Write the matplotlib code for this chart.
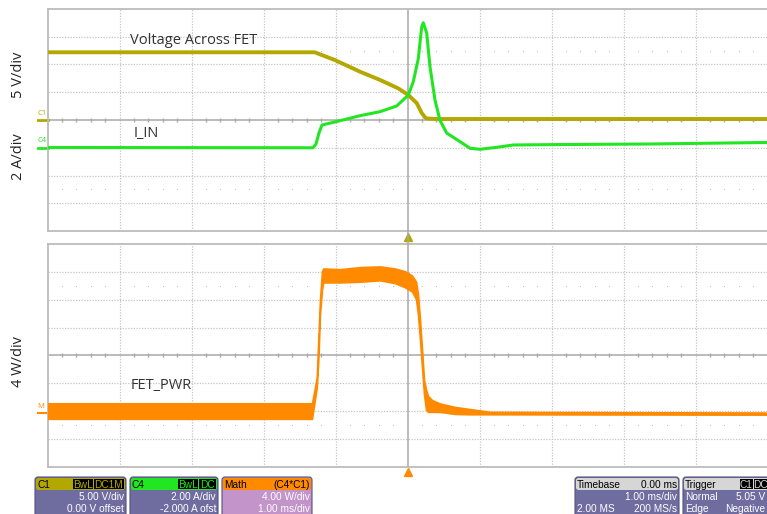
import matplotlib
matplotlib.use("Agg")
import matplotlib.pyplot as plt
import numpy as np
from matplotlib.patches import FancyBboxPatch, Rectangle

plt.rcParams['font.family'] = ['Open Sans', 'DejaVu Sans']

# --- scope settings ---
V_PER_DIV = 5.0       # C1
A_PER_DIV = 2.0       # C4
A_OFFSET = -2.0
W_PER_DIV = 4.0       # Math
MATH_ZERO_DIV = -2.08

# --- C1: voltage across FET (ms, V) ---
v_time = [-5.0, -1.29, -1.01, -0.66, -0.38, -0.13, 0.01, 0.126, 0.196, 0.242, 0.265, 0.4, 5.0]
v_vals = [12.2, 12.2, 10.8, 8.7, 7.2, 5.7, 4.5, 3.06, 1.26, 0.49, 0.27, 0.18, 0.18]

# --- C4: input current (ms, A) ---
i_time = [-5.0, -1.314, -1.272, -1.231, -1.189, -1.008, -0.661, -0.383, -0.151, 0.010, 0.079,
          0.149, 0.196, 0.218, 0.265, 0.311, 0.381, 0.450, 0.543, 0.728, 0.867, 1.006, 1.238,
          1.468, 2.117, 3.367, 4.99]
i_vals = [0.02, 0.0, 0.27, 1.06, 1.64, 1.86, 2.31, 2.60, 3.01, 3.80, 4.76,
          6.44, 8.72, 9.01, 8.27, 5.84, 3.42, 1.98, 1.06, 0.44, -0.04, -0.11, 0.03,
          0.20, 0.23, 0.27, 0.38]

# --- Math: FET power envelope (ms, W) ---
p_time = [-5.0, -1.328, -1.262, -1.240, -1.217, -1.189, -1.171, -0.939, -0.661, -0.383, -0.175,
          -0.036, 0.061, 0.117, 0.144, 0.172, 0.200, 0.228, 0.256, 0.283, 0.339, 0.450, 0.658,
          0.867, 1.144, 4.99]
p_upper = [1.43, 1.43, 5.10, 10.6, 16.3, 20.4, 20.8, 20.7, 21.0, 21.1, 20.8,
           20.4, 19.8, 18.9, 17.1, 13.5, 9.2, 4.8, 3.4, 2.5, 1.9, 1.4, 0.9,
           0.6, 0.2, 0.1]
p_lower = [-0.80, -0.80, 3.68, 7.7, 14.2, 17.8, 18.8, 18.8, 18.9, 19.1, 18.7,
           18.1, 17.5, 16.4, 14.2, 10.6, 6.6, 2.7, 0.5, 0.2, 0.2, 0.2, -0.1,
           -0.15, -0.15, -0.2]

C1_COL = '#b3a800'
C4_COL = '#22e622'
MATH_COL = '#ff8a00'
GRID_COL = '#c4c4c4'
AXIS_COL = '#a8a8a8'

W, H = 767, 514
fig = plt.figure(figsize=(W / 100, H / 100), dpi=100)


def px_axes(x0, y_top, x1, y_bot):
    return fig.add_axes([x0 / W, 1 - y_bot / H, (x1 - x0) / W, (y_bot - y_top) / H])


def scope_grid(ax):
    ax.set_xlim(-5, 5)
    ax.set_ylim(-4, 4)
    ax.set_xticks([])
    ax.set_yticks([])
    for s in ax.spines.values():
        s.set_color('#bcbcbc')
        s.set_linewidth(1.3)
    for k in range(-4, 5):
        if k != 0:
            ax.axvline(k, color=GRID_COL, lw=0.9, ls=(0, (1, 1.2)), zorder=0)
    for k in range(-3, 4):
        if k != 0:
            ax.axhline(k, color=GRID_COL, lw=0.9, ls=(0, (1, 1.2)), zorder=0)
    ax.axhline(0, color=AXIS_COL, lw=1.1, zorder=0)
    ax.axvline(0, color=AXIS_COL, lw=1.1, zorder=0)
    minor_x = [m / 5 for m in range(-25, 26) if m % 5 != 0]
    ax.plot(minor_x, [0] * len(minor_x), ls='none', marker='|', ms=3.5, mew=1, color=AXIS_COL, zorder=0)
    for yy in (2.5, -2.5):
        ax.plot(minor_x, [yy] * len(minor_x), ls='none', marker='s', ms=0.6, mew=0, color='#b8b8b8', zorder=0)


# top panel: C1 and C4
ax1 = px_axes(47.6, 9, 767.6, 231)
scope_grid(ax1)
v_div = np.array(v_vals) / V_PER_DIV
i_div = (np.array(i_vals) + A_OFFSET) / A_PER_DIV
ax1.plot(v_time, v_div, color=C1_COL, lw=2.8, solid_joinstyle='round', zorder=3)
ax1.plot(i_time, i_div, color=C4_COL, lw=2.2, solid_joinstyle='round', zorder=4)
ax1.text(-3.855, 2.85, 'Voltage Across FET', fontsize=10.5, color='#333333', va='center', ha='left')
ax1.text(-3.81, -0.5, 'I_IN', fontsize=10.5, color='#333333', va='center', ha='left')
ax1.plot(0, -4.22, marker='^', ms=6, color=C1_COL, clip_on=False, zorder=5)
# channel markers
ax1.plot([-5.14, -5.0], [0, 0], color=C1_COL, lw=2, clip_on=False)
ax1.text(-5.14, 0.12, 'C1', fontsize=5.5, color=C1_COL, ha='left', va='bottom')
ax1.plot([-5.14, -5.0], [A_OFFSET / A_PER_DIV] * 2, color=C4_COL, lw=2, clip_on=False)
ax1.text(-5.14, A_OFFSET / A_PER_DIV + 0.12, 'C4', fontsize=5.5, color=C4_COL, ha='left', va='bottom')

# bottom panel: Math = C4*C1
ax2 = px_axes(47.6, 244, 767.6, 466.7)
scope_grid(ax2)
pu = np.array(p_upper) / W_PER_DIV + MATH_ZERO_DIV
pl = np.array(p_lower) / W_PER_DIV + MATH_ZERO_DIV
ax2.fill_between(p_time, pl, pu, color=MATH_COL, lw=1.2, edgecolor=MATH_COL, zorder=3)
ax2.text(-3.84, -1.1, 'FET_PWR', fontsize=10.5, color='#333333', va='center', ha='left')
ax2.plot(0, -4.2, marker='^', ms=6, color=MATH_COL, clip_on=False, zorder=5)
ax2.plot([-5.14, -5.0], [MATH_ZERO_DIV] * 2, color=MATH_COL, lw=1.5, clip_on=False)
ax2.text(-5.14, MATH_ZERO_DIV + 0.1, 'M', fontsize=5.5, color=MATH_COL, ha='left', va='bottom')

# overlay in pixel coordinates
ov = fig.add_axes([0, 0, 1, 1])
ov.set_xlim(0, W)
ov.set_ylim(H, 0)
ov.axis('off')
ov.patch.set_visible(False)
ov.plot([407.6, 407.6], [231, 244], color=AXIS_COL, lw=1.1)

ov.text(18, 75, '5 V/div', rotation=90, fontsize=10.5, ha='center', va='center', color='#222222')
ov.text(18, 157, '2 A/div', rotation=90, fontsize=10.5, ha='center', va='center', color='#222222')
ov.text(18, 362, '4 W/div', rotation=90, fontsize=10.5, ha='center', va='center', color='#222222')

BODY = '#6f6c9f'
BODY_MATH = '#c294c9'
HEAD_GREY = '#d6d6d6'
bf = dict(family=['Liberation Sans', 'DejaVu Sans'], fontsize=7.3)


def info_box(x0, x1, head, body, title, right_title=None, badges=(), rows=(), text_right=None):
    tr = text_right if text_right is not None else x1 - 2
    ov.add_patch(FancyBboxPatch((x0, 477), x1 - x0, 50, boxstyle='round,pad=0,rounding_size=3',
                                fc=body, ec='#55537a', lw=0.8))
    ov.add_patch(FancyBboxPatch((x0 + 1, 478), x1 - x0 - 2, 12, boxstyle='round,pad=0,rounding_size=2.5',
                                fc=head, ec='none'))
    ov.text(x0 + 2, 484.5, title, color='black', ha='left', va='center', **bf)
    if right_title:
        ov.text(tr, 484.5, right_title, color='black', ha='right', va='center', **bf)
    for bx0, bx1, label in badges:
        ov.add_patch(Rectangle((bx0, 479), bx1 - bx0, 10, fc='black', ec='none'))
        ov.text((bx0 + bx1) / 2, 484.5, label, color=head, ha='center', va='center', **bf)
    for yy, left, right in rows:
        if left:
            ov.text(x0 + 2, yy, left, color='white', ha='left', va='center', **bf)
        if right:
            ov.text(tr, yy, right, color='white', ha='right', va='center', **bf)


info_box(35, 126, C1_COL, BODY, 'C1', badges=[(73, 92.5, 'BwL'), (93.5, 124, 'DC1M')],
         rows=[(497, None, '5.00 V/div'), (509, None, '0.00 V offset')])
info_box(130, 218, C4_COL, BODY, 'C4', badges=[(178, 197.5, 'BwL'), (198.5, 216, 'DC')],
         rows=[(497, None, '2.00 A/div'), (509, None, '-2.000 A ofst')])
info_box(222, 312, MATH_COL, BODY_MATH, 'Math', right_title='(C4*C1)',
         rows=[(497, None, '4.00 W/div'), (509, None, '1.00 ms/div')])
info_box(575, 679, HEAD_GREY, BODY, 'Timebase', right_title='0.00 ms',
         rows=[(497, None, '1.00 ms/div'), (509, '2.00 MS', '200 MS/s')])
info_box(683, 790, HEAD_GREY, BODY, 'Trigger', badges=[(740, 752.5, 'C1'), (753.5, 767, 'DC')],
         rows=[(497, 'Normal', '5.05 V'), (509, 'Edge', 'Negative')], text_right=765)

fig.savefig('out.png', dpi=100)
